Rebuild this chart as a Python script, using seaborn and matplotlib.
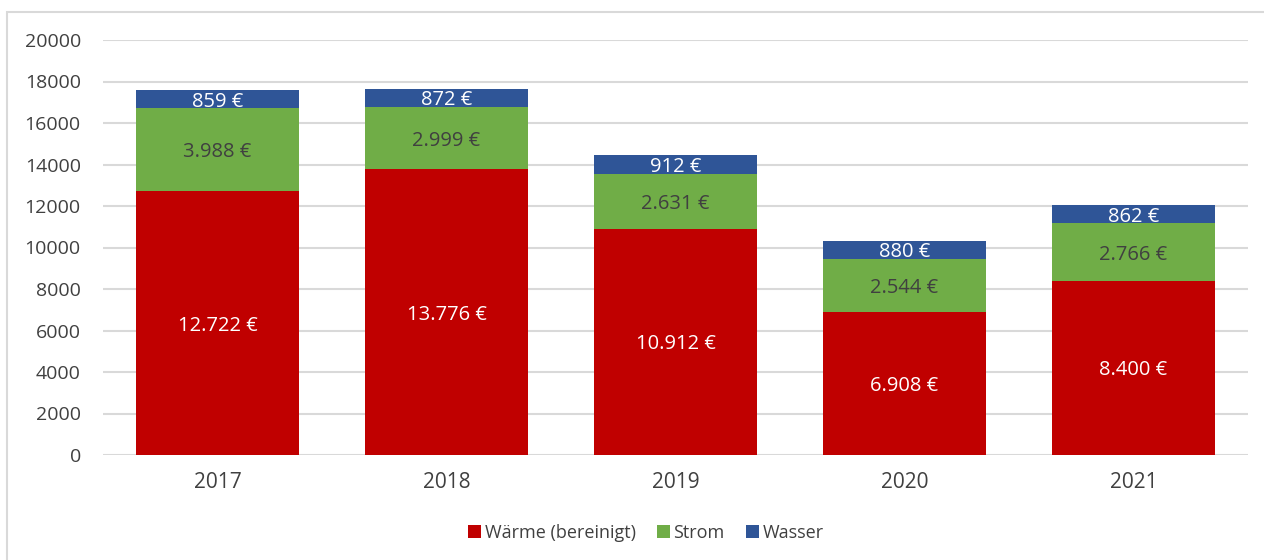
import matplotlib
matplotlib.use("Agg")
import matplotlib.pyplot as plt
from matplotlib.patches import Rectangle
import seaborn as sns
import pandas as pd
import numpy as np

years = ["2017", "2018", "2019", "2020", "2021"]
waerme = [12722, 13776, 10912, 6908, 8400]
strom = [3988, 2999, 2631, 2544, 2766]
wasser = [859, 872, 912, 880, 862]
series_names = ["Wärme (bereinigt)", "Strom", "Wasser"]
colors = ["#C00000", "#70AD47", "#2F5597"]
label_colors = ["white", "#404040", "white"]
yticks = [0, 2000, 4000, 6000, 8000, 10000, 12000, 14000, 16000, 18000, 20000]

sns.set_theme(style="white")
plt.rcParams['font.family'] = ['Open Sans', 'DejaVu Sans']

fig = plt.figure(figsize=(12.64, 5.6), dpi=100)
ax = fig.add_axes([103/1264, 1-455/560, (1248-103)/1264, 415/560])

def fmt(v):
    return f"{v:,}".replace(",", ".") + " €"

layers = [waerme, strom, wasser]
bottom = np.zeros(len(years))
for name, vals, col in zip(series_names, layers, colors):
    df = pd.DataFrame({"Jahr": years, "Wert": vals})
    sns.barplot(data=df, x="Jahr", y="Wert", order=years, color=col, bottom=bottom,
                width=0.716, ax=ax, label=name, saturation=1, linewidth=0, zorder=3)
    bottom = bottom + np.array(vals)

# labels on bars
bottom = np.zeros(len(years))
for vals, lc in zip(layers, label_colors):
    for i, v in enumerate(vals):
        ax.text(i, bottom[i] + v/2, fmt(v), ha="center", va="center_baseline", color=lc,
                fontsize=14.5, zorder=5)
    bottom = bottom + np.array(vals)

ax.set_ylim(0, 20000)
ax.set_xlim(-0.5, 4.5)
ax.set_yticks(yticks)
ax.set_yticklabels([str(t) for t in yticks])
ax.yaxis.grid(True, color="#D9D9D9", linewidth=1.5, zorder=0)
ax.set_axisbelow(True)
for s in ax.spines.values():
    s.set_visible(False)
ax.tick_params(axis="both", length=0, colors="#404040")
ax.tick_params(axis="y", pad=16, labelsize=14)
ax.tick_params(axis="x", pad=12, labelsize=15)
ax.set_xlabel("")
ax.set_ylabel("")

handles, labels = ax.get_legend_handles_labels()
if ax.get_legend() is not None:
    ax.get_legend().remove()
leg = fig.legend(handles, labels, loc="center", bbox_to_anchor=(646/1264, 1-533/560),
                 ncol=3, frameon=False, fontsize=13, handlelength=0.7, handleheight=0.7,
                 handletextpad=0.2, columnspacing=1.2, labelcolor="#404040")

fig.patches.append(Rectangle((7/1264, -0.1), 1.2, 1-12/560+0.1, transform=fig.transFigure,
                             fill=False, edgecolor="#D9D9D9", linewidth=1.5, clip_on=False))

fig.savefig("out.png", dpi=100)
